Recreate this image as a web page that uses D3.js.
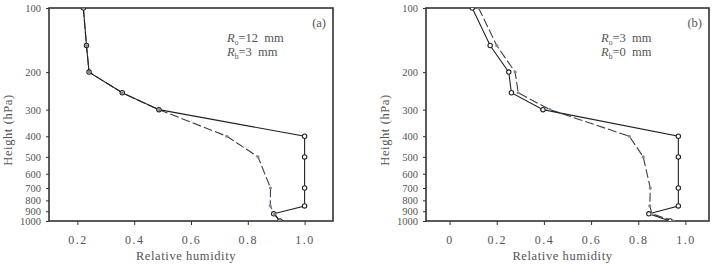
<!DOCTYPE html>
<html>
<head>
<meta charset="utf-8">
<script src="https://cdn.jsdelivr.net/npm/d3@7"></script>
<style>
  body { margin: 0; background: #fff; }
  svg text { font-family: "Liberation Serif", "DejaVu Serif", serif; fill: #555; }
</style>
</head>
<body>
<script>
// pressure levels (hPa)
var levels = [100, 150, 200, 250, 300, 400, 500, 700, 850, 925, 1000];
var yTicks = [100, 200, 300, 400, 500, 600, 700, 800, 900, 1000];

// panel (a)
var aSolid  = [0.221, 0.232, 0.241, 0.358, 0.487, 1.0, 1.0, 1.0, 1.0, 0.891, 0.913];
var aDashed = [0.221, 0.232, 0.241, 0.358, 0.487, 0.726, 0.836, 0.880, 0.879, 0.894, 0.913];
var aXTicks = [0.2, 0.4, 0.6, 0.8, 1.0];

// panel (b)
var bSolid  = [0.096, 0.172, 0.251, 0.262, 0.396, 0.970, 0.970, 0.970, 0.970, 0.845, 0.935];
var bDashed = [0.123, 0.200, 0.278, 0.291, 0.425, 0.762, 0.821, 0.851, 0.849, 0.858, 0.950];
var bXTicks = [0, 0.2, 0.4, 0.6, 0.8, 1.0];

var serif = '"Liberation Serif", "DejaVu Serif", serif';

var svg = d3.select('body').append('svg')
    .attr('width', 718).attr('height', 266);

function panel(opt, id) {
    var x = d3.scaleLinear().domain(opt.xdom).range([opt.left, opt.right]);
    var y = d3.scaleLog().domain([100, 1000]).range([8, 221]);
    var g = svg.append('g');

    svg.append('clipPath').attr('id', 'clip' + id)
        .append('rect').attr('x', opt.left).attr('y', 8)
        .attr('width', opt.right - opt.left).attr('height', 213);

    // x axis
    var xa = g.append('g').attr('transform', 'translate(0,221)')
        .call(d3.axisBottom(x).tickValues(opt.xticks).tickSize(4).tickPadding(10)
            .tickFormat(function(d) { return d === 0 ? '0' : d.toFixed(1); }));
    xa.attr('font-family', serif);
    xa.selectAll('text').attr('font-size', 12).attr('letter-spacing', 1.5).attr('fill', '#555');

    // y axis
    var ya = g.append('g').attr('transform', 'translate(' + opt.left + ',0)')
        .call(d3.axisLeft(y).tickValues(yTicks).tickSize(3).tickPadding(5)
            .tickFormat(d3.format('d')));
    ya.attr('font-family', serif);
    ya.selectAll('text').attr('font-size', 10.5).attr('fill', '#555');

    g.selectAll('.domain').remove();
    g.selectAll('.tick line').attr('stroke', '#333');

    // frame
    g.append('rect')
        .attr('x', opt.left).attr('y', 8)
        .attr('width', opt.right - opt.left).attr('height', 213)
        .attr('fill', 'none').attr('stroke', '#333').attr('stroke-width', 1.6);

    var line = d3.line()
        .x(function(d) { return x(d[1]); })
        .y(function(d) { return y(d[0]); });

    var solid = levels.map(function(p, i) { return [p, opt.solid[i]]; });
    var dashed = levels.map(function(p, i) { return [p, opt.dashed[i]]; });

    var pg = g.append('g').attr('clip-path', 'url(#clip' + id + ')');

    pg.append('path').datum(dashed).attr('d', line)
        .attr('fill', 'none').attr('stroke', '#3a3f45').attr('stroke-width', 1.1)
        .attr('stroke-dasharray', '9,3');
    pg.append('path').datum(solid).attr('d', line)
        .attr('fill', 'none').attr('stroke', '#222').attr('stroke-width', 1.1);

    pg.selectAll('.mk').data(solid).enter().append('circle')
        .attr('cx', function(d) { return x(d[1]); })
        .attr('cy', function(d) { return y(d[0]); })
        .attr('r', 2.2).attr('fill', '#fff').attr('stroke', '#222').attr('stroke-width', 1.1);
    pg.selectAll('.md').data(dashed).enter().append('circle')
        .attr('cx', function(d) { return x(d[1]); })
        .attr('cy', function(d) { return y(d[0]); })
        .attr('r', 1.6).attr('fill', '#7d8c99');

    // labels
    g.append('text').attr('x', (opt.left + opt.right) / 2 - 5).attr('y', 260)
        .attr('text-anchor', 'middle').attr('font-size', 12.5).attr('letter-spacing', 0.6)
        .text('Relative humidity');
    g.append('text')
        .attr('transform', 'translate(' + opt.ylabX + ',130) rotate(-90)')
        .attr('text-anchor', 'middle').attr('font-size', 12.5).attr('letter-spacing', 0.6)
        .text('Height (hPa)');

    g.append('text').attr('x', opt.right - 7).attr('y', 27)
        .attr('text-anchor', 'end').attr('font-size', 12.5).text(opt.tag);

    var t1 = g.append('text').attr('x', opt.annX).attr('y', 42).attr('font-size', 12.5);
    t1.append('tspan').attr('font-style', 'italic').text('R');
    t1.append('tspan').attr('font-size', 7.5).attr('dy', 3).text('o');
    t1.append('tspan').attr('dy', -3).text('=' + opt.ro + '\u2002mm');
    var t2 = g.append('text').attr('x', opt.annX).attr('y', 56).attr('font-size', 12.5);
    t2.append('tspan').attr('font-style', 'italic').text('R');
    t2.append('tspan').attr('font-size', 7.5).attr('dy', 3).text('b');
    t2.append('tspan').attr('dy', -3).text('=' + opt.rb + '\u2002mm');
}

panel({ left: 49, right: 333, xdom: [0.1, 1.1], xticks: aXTicks,
        solid: aSolid, dashed: aDashed, tag: '(a)', ro: 12, rb: 3,
        annX: 227, ylabX: 12 }, 'a');
panel({ left: 426, right: 709, xdom: [-0.1, 1.1], xticks: bXTicks,
        solid: bSolid, dashed: bDashed, tag: '(b)', ro: 3, rb: 0,
        annX: 601, ylabX: 389 }, 'b');
</script>
</body>
</html>
